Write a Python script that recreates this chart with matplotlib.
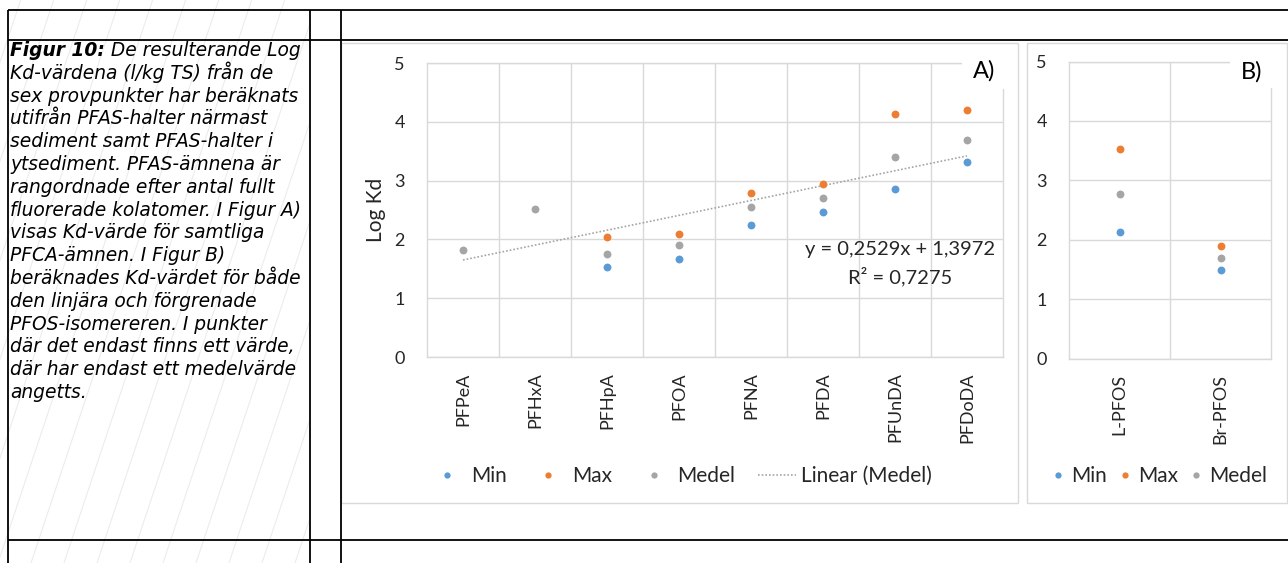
import numpy as np
import matplotlib.pyplot as plt
from matplotlib.patches import Rectangle
from matplotlib.lines import Line2D

W, H = 1288, 563

# Figur A) - PFCA
cats_a = ['PFPeA', 'PFHxA', 'PFHpA', 'PFOA', 'PFNA', 'PFDA', 'PFUnDA', 'PFDoDA']
min_a = [np.nan, np.nan, 1.53, 1.67, 2.24, 2.46, 2.85, 3.32]
max_a = [np.nan, np.nan, 2.04, 2.09, 2.79, 2.94, 4.13, 4.20]
medel_a = [1.82, 2.52, 1.75, 1.90, 2.55, 2.70, 3.40, 3.69]

# trendline for Medel, as printed in the chart
trend_slope = 0.2529
trend_icpt = 1.3972
eq_text = 'y = 0,2529x + 1,3972'
r2_text = 'R² = 0,7275'

# Figur B) - PFOS isomers
cats_b = ['L-PFOS', 'Br-PFOS']
min_b = [2.13, 1.49]
max_b = [3.53, 1.90]
medel_b = [2.77, 1.69]

series_names = ['Min', 'Max', 'Medel']
trend_name = 'Linear (Medel)'

caption_bold = 'Figur 10:'
caption_lines = [
    ' De resulterande Log',
    'Kd-värdena (l/kg TS) från de',
    'sex provpunkter har beräknats',
    'utifrån PFAS-halter närmast',
    'sediment samt PFAS-halter i',
    'ytsediment. PFAS-ämnena är',
    'rangordnade efter antal fullt',
    'fluorerade kolatomer. I Figur A)',
    'visas Kd-värde för samtliga',
    'PFCA-ämnen. I Figur B)',
    'beräknades Kd-värdet för både',
    'den linjära och förgrenade',
    'PFOS-isomereren. I punkter',
    'där det endast finns ett värde,',
    'där har endast ett medelvärde',
    'angetts.',
]

plt.rcParams['font.family'] = ['Lato', 'DejaVu Sans']

C_MIN = '#5B9BD5'
C_MAX = '#ED7D31'
C_MED = '#A5A5A5'
GRID = '#d9d9d9'
TXT = '#262626'
colors = [C_MIN, C_MAX, C_MED]


def px_box(x0, y0, x1, y1):
    return [x0 / W, 1 - y1 / H, (x1 - x0) / W, (y1 - y0) / H]


fig = plt.figure(figsize=(W / 100, H / 100), dpi=100)

#  Background: page with table lines, hatch and caption
bg = fig.add_axes([0, 0, 1, 1])
bg.set_xlim(0, W)
bg.set_ylim(H, 0)
bg.axis('off')

clip = Rectangle((0, 0), 310, H, transform=bg.transData)
for x0 in np.arange(-200, 330, 33):
    ln, = bg.plot([x0, x0 + H / 3], [H, 0], color='#ececec', lw=0.8, zorder=1)
    ln.set_clip_path(clip)

bg.add_patch(Rectangle((341, 42.5), 677, 460, fc='white', ec=GRID, lw=1, zorder=2))
bg.add_patch(Rectangle((1027, 42.5), 260, 460, fc='white', ec=GRID, lw=1, zorder=2))

for y in [10, 40, 540]:
    bg.plot([8, W], [y, y], color='black', lw=1.3, zorder=3, solid_capstyle='butt')
for x in [8, 310, 341]:
    bg.plot([x, x], [10, H], color='black', lw=1.3, zorder=3, solid_capstyle='butt')

cap_kw = dict(family='DejaVu Sans', style='italic', fontsize=13.4, va='baseline', color='black')
t0 = bg.text(10, 56, caption_bold, fontweight='bold', **cap_kw)
renderer = fig.canvas.get_renderer()
x_after = t0.get_window_extent(renderer).x1
for i, line in enumerate(caption_lines):
    xs = x_after if i == 0 else 10
    bg.text(xs, 56 + i * 22.8, line, **cap_kw)


def style_ax(ax, cats):
    n = len(cats)
    ax.set_xlim(0.5, n + 0.5)
    ax.set_ylim(0, 5)
    ax.set_xticks(np.arange(1, n + 1))
    ax.set_xticklabels(cats, rotation=90, va='top', ha='center')
    ax.set_xticks(np.arange(1.5, n, 1), minor=True)
    ax.set_yticks(range(6))
    ax.tick_params(which='both', length=0, labelsize=13, colors=TXT)
    ax.tick_params(axis='y', pad=16)
    ax.tick_params(axis='x', pad=11)
    ax.grid(axis='y', which='major', color=GRID, lw=1)
    ax.grid(axis='x', which='minor', color=GRID, lw=1)
    for s in ax.spines.values():
        s.set_color(GRID)
        s.set_linewidth(1)
    ax.set_axisbelow(True)


#  Chart A
axA = fig.add_axes(px_box(427, 63, 1003, 357))
style_ax(axA, cats_a)
xa = np.arange(1, len(cats_a) + 1)
axA.plot(xa, trend_slope * xa + trend_icpt, color=C_MED, lw=1.2, ls=(0, (1, 1.2)), zorder=2.5)
for vals, c in zip([min_a, max_a, medel_a], colors):
    axA.scatter(xa, vals, s=32, color=c, linewidths=0, zorder=3)
axA.text((376 - 427) / 576, 0.5, 'Log Kd', transform=axA.transAxes, rotation=90,
         ha='center', va='center', fontsize=15, color=TXT)
axA.text(0.821, 0.364, eq_text, transform=axA.transAxes, ha='center', va='center',
         fontsize=14.5, color=TXT)
axA.text(0.821, 0.272, r2_text, transform=axA.transAxes, ha='center', va='center',
         fontsize=14.5, color=TXT)

handles = [Line2D([], [], marker='o', ls='none', color=c, markersize=4.5, markeredgewidth=0)
           for c in colors]
handles.append(Line2D([], [], color=C_MED, lw=1.2, ls=(0, (1, 1.2))))
axA.legend(handles, series_names + [trend_name], loc='center',
           bbox_to_anchor=(680 / W, 1 - 476 / H), bbox_transform=fig.transFigure,
           ncol=4, frameon=False, fontsize=15, labelcolor=TXT, handlelength=1.83,
           handletextpad=0.24, columnspacing=1.06, borderaxespad=0, borderpad=0)

#  Chart B
axB = fig.add_axes(px_box(1069, 61.5, 1271, 358.5))
style_ax(axB, cats_b)
xb = np.arange(1, len(cats_b) + 1)
for vals, c in zip([min_b, max_b, medel_b], colors):
    axB.scatter(xb, vals, s=32, color=c, linewidths=0, zorder=3)
axB.legend(handles[:3], series_names, loc='center',
           bbox_to_anchor=(1159 / W, 1 - 476 / H), bbox_transform=fig.transFigure,
           ncol=3, frameon=False, fontsize=15, labelcolor=TXT, handlelength=0.67,
           handletextpad=0.3, columnspacing=0.53, borderaxespad=0, borderpad=0)

#  Panel labels with white boxes over the plot corners
fig.add_artist(Rectangle((962 / W, 1 - 89 / H), 48 / W, 31 / H, transform=fig.transFigure,
                         fc='white', ec='none', zorder=3))
fig.add_artist(Rectangle((1230 / W, 1 - 88 / H), 44 / W, 30 / H, transform=fig.transFigure,
                         fc='white', ec='none', zorder=3))
fig.text(984 / W, 1 - 71 / H, 'A)', ha='center', va='center', fontsize=17, color='black', zorder=4)
fig.text(1252 / W, 1 - 72 / H, 'B)', ha='center', va='center', fontsize=17, color='black', zorder=4)

fig.savefig('out.png', dpi=100)
